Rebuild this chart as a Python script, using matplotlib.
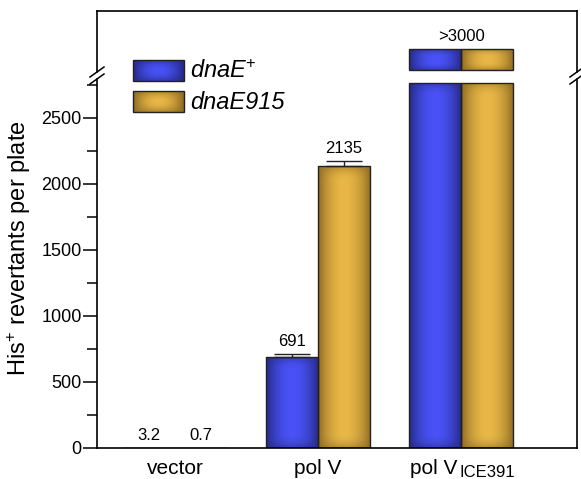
import numpy as np
import matplotlib
matplotlib.use("Agg")
import matplotlib.pyplot as plt
from matplotlib.colors import to_rgb

plt.rcParams['font.family'] = ['Liberation Sans', 'DejaVu Sans']
plt.rcParams['mathtext.fontset'] = 'custom'
plt.rcParams['mathtext.rm'] = 'Liberation Sans'
plt.rcParams['mathtext.it'] = 'Liberation Sans:italic'

# data
groups = ["vector", "pol V", "pol V"]
group_sub = [None, None, "ICE391"]
dnaE_plus = [3.2, 691, 3000]
dnaE915 = [0.7, 2135, 3000]
err_plus = [0, 21, 0]
err_915 = [0, 39, 0]
lab_plus = ["3.2", "691", None]
lab_915 = ["0.7", "2135", None]
big_label = ">3000"
yticks = [0, 500, 1000, 1500, 2000, 2500]

low_top = 2795      # top of the lower axis segment
low_cap = 2765      # where the broken bars stop in the lower segment
top_range = (2990, 3295)
top_bar_h = 105

blue_mid, blue_edge = "#4852f6", "#262a86"
gold_mid, gold_edge = "#e9b747", "#8f6c22"

W, H = 581, 479
fig = plt.figure(figsize=(W / 100, H / 100), dpi=100)

def px_axes(x0, y0, x1, y1):
    return fig.add_axes([x0 / W, 1 - y1 / H, (x1 - x0) / W, (y1 - y0) / H])

ax = px_axes(97, 79, 577, 448)
axt = px_axes(97, 11, 577, 72)

x = np.arange(len(groups))
bw = 0.364
xlim = (-0.545, 2.81)

for a in (ax, axt):
    a.set_xlim(*xlim)
    for s in a.spines.values():
        s.set_linewidth(1.2)
ax.set_ylim(0, low_top)
axt.set_ylim(*top_range)


def shade(a, rect, c_mid, c_edge, edge_px=14):
    x0, y0 = rect.get_x(), rect.get_y()
    w, h = rect.get_width(), rect.get_height()
    p0 = a.transData.transform((x0, y0))
    p1 = a.transData.transform((x0 + w, y0 + h))
    hp = max(abs(p1[1] - p0[1]), 2)
    ny, nx = max(int(hp), 2), 60
    u = np.linspace(-1, 1, nx)
    wx = 1 - np.abs(u) ** 2.0
    yy = np.linspace(0, hp, ny)
    d = np.minimum(yy, hp - yy)
    wy = np.clip(d / edge_px, 0, 1)
    wy = 1 - (1 - wy) ** 2
    wgt = wx[None, :] * (0.45 + 0.55 * wy[:, None])
    cm, ce = np.array(to_rgb(c_mid)), np.array(to_rgb(c_edge))
    img = ce + (cm - ce) * wgt[..., None]
    im = a.imshow(img, extent=[x0, x0 + w, y0, y0 + h], origin='lower',
                  aspect='auto', interpolation='bilinear', zorder=1.5)
    im.set_clip_path(rect)


low_plus = [min(v, low_cap) for v in dnaE_plus]
low_915 = [min(v, low_cap) for v in dnaE915]
bp = ax.bar(x - bw / 2, low_plus, bw, facecolor='none', edgecolor='#222222', linewidth=1.0, zorder=2)
bg = ax.bar(x + bw / 2, low_915, bw, facecolor='none', edgecolor='#222222', linewidth=1.0, zorder=2)

# broken bars, upper segment
big = [i for i, v in enumerate(dnaE_plus) if v > low_top]
tp = axt.bar(x[big] - bw / 2, top_bar_h, bw, bottom=top_range[0] + 10,
             facecolor='none', edgecolor='#222222', linewidth=1.0, zorder=2)
tg = axt.bar(x[big] + bw / 2, top_bar_h, bw, bottom=top_range[0] + 10,
             facecolor='none', edgecolor='#222222', linewidth=1.0, zorder=2)

for r in bp:
    shade(ax, r, blue_mid, blue_edge)
for r in bg:
    shade(ax, r, gold_mid, gold_edge)
for r in tp:
    shade(axt, r, blue_mid, blue_edge, edge_px=8)
for r in tg:
    shade(axt, r, gold_mid, gold_edge, edge_px=8)
ax.set_xlim(*xlim); ax.set_ylim(0, low_top)
axt.set_xlim(*xlim); axt.set_ylim(*top_range)

# error bars (upper only)
for off, vals, errs in ((-bw / 2, dnaE_plus, err_plus), (bw / 2, dnaE915, err_915)):
    for i in range(len(groups)):
        if errs[i] > 0:
            ax.errorbar(x[i] + off, vals[i], yerr=[[0], [errs[i]]], fmt='none',
                        ecolor='#222222', elinewidth=1.0, capsize=13, capthick=1.0, zorder=3)

for off, vals, errs, labs in ((-bw / 2, dnaE_plus, err_plus, lab_plus),
                              (bw / 2, dnaE915, err_915, lab_915)):
    for i in range(len(groups)):
        if labs[i]:
            ax.annotate(labs[i], (x[i] + off, vals[i] + errs[i]), xytext=(0, 3.5),
                        textcoords='offset points', ha='center', va='bottom', fontsize=12)

axt.annotate(big_label, (x[big[0]], top_range[0] + 10 + top_bar_h), xytext=(0, 3.5),
             textcoords='offset points', ha='center', va='bottom', fontsize=12)

# axes styling
ax.spines['top'].set_visible(False)
axt.spines['bottom'].set_visible(False)
axt.set_xticks([]); axt.set_yticks([])

ax.set_yticks(yticks)
ax.set_yticks(np.arange(250, 2800, 500), minor=True)
ax.tick_params(axis='y', which='major', length=10, width=1.1, labelsize=13, pad=1)
ax.tick_params(axis='y', which='minor', length=7, width=1.1)

# group labels
ax.set_xticks([])
for i, g in enumerate(groups):
    if group_sub[i] is None:
        ax.annotate(g, (x[i], 0), xycoords=('data', 'axes fraction'), xytext=(0, -18.5),
                    textcoords='offset points', ha='center', va='baseline', fontsize=15)
    else:
        ax.annotate(g, (x[i], 0), xycoords=('data', 'axes fraction'), xytext=(-2.5, -18.5),
                    textcoords='offset points', ha='right', va='baseline', fontsize=15)
        ax.annotate(group_sub[i], (x[i], 0), xycoords=('data', 'axes fraction'),
                    xytext=(-1, -21), textcoords='offset points', ha='left',
                    va='baseline', fontsize=12)

ax.set_ylabel("His$^{+}$ revertants per plate", fontsize=17)
ax.yaxis.set_label_coords(-0.133, (448 - 248) / 369)

# overlay in pixel coordinates for legend and break marks
ov = fig.add_axes([0, 0, 1, 1], zorder=5)
ov.set_xlim(0, W); ov.set_ylim(H, 0); ov.axis('off')

for xs in (97, 577):
    for yc in (72, 79):
        ov.plot([xs - 7, xs + 7], [yc + 5, yc - 5], color='black', lw=1.1)

leg_items = [(blue_mid, blue_edge, r"dnaE$^{+}$", 60),
             (gold_mid, gold_edge, "dnaE915", 91)]
for cm, ce, txt, y0 in leg_items:
    r = plt.Rectangle((133, y0), 51, 21, facecolor='none', edgecolor='#222222', lw=1.0, zorder=2)
    ov.add_patch(r)
    u = np.linspace(-1, 1, 40)
    v = np.linspace(-1, 1, 16)
    wgt = (1 - np.abs(u)[None, :] ** 2) * (1 - 0.6 * np.abs(v)[:, None] ** 2)
    a1, a2 = np.array(to_rgb(cm)), np.array(to_rgb(ce))
    img = a2 + (a1 - a2) * wgt[..., None]
    im = ov.imshow(img, extent=[133, 184, y0 + 21, y0], aspect='auto', interpolation='bilinear', zorder=1)
    im.set_clip_path(r)
    ov.text(190, y0 + 11, txt, fontsize=17, va='center', ha='left', style='italic')
ov.set_xlim(0, W); ov.set_ylim(H, 0)

fig.savefig("out.png", dpi=100)
